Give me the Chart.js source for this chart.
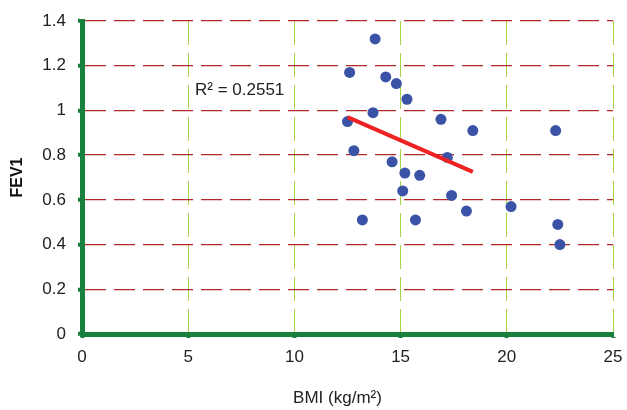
<!DOCTYPE html>
<html>
<head>
<meta charset="utf-8">
<script src="https://cdn.jsdelivr.net/npm/chart.js@4/dist/chart.umd.min.js"></script>
<style>
  html, body { margin: 0; padding: 0; background: #fff; }
  #wrap { width: 627px; height: 410px; }
</style>
</head>
<body>
<div id="wrap"><canvas id="c"></canvas></div>
<script>
// BMI vs FEV1 scatter with linear trend

// data
const bmi  = [13.8, 12.6, 14.3, 14.8, 15.3, 13.7, 12.5, 16.9, 18.4, 22.3, 12.8, 17.2,
              14.6, 15.2, 15.9, 15.1, 17.4, 18.1, 20.2, 13.2, 15.7, 22.4, 22.5];
const fev1 = [1.32, 1.17, 1.15, 1.12, 1.05, 0.99, 0.95, 0.96, 0.91, 0.91, 0.82, 0.79,
              0.77, 0.72, 0.71, 0.64, 0.62, 0.55, 0.57, 0.51, 0.51, 0.49, 0.40];

// trend line endpoints
const trendX = [12.5, 18.4];
const trendY = [0.97, 0.725];

const xTicks = [0, 5, 10, 15, 20, 25];
const yTicks = [0, 0.2, 0.4, 0.6, 0.8, 1, 1.2, 1.4];

const rLabel = 'R² = 0.2551';
const rPos = { x: 5.32, y: 1.09 };
const xTitle = 'BMI (kg/m²)';

const AXIS_GREEN = '#16803c';
const FONT = 'Arial, "Liberation Sans", sans-serif';

// R² annotation + x axis title
const labelsPlugin = {
    id: 'labels',
    afterDatasetsDraw(chart) {
        const ctx = chart.ctx;
        const x = chart.scales.x.getPixelForValue(rPos.x);
        const y = chart.scales.y.getPixelForValue(rPos.y);
        ctx.save();
        ctx.font = '17px ' + FONT;
        ctx.fillStyle = '#222';
        ctx.textBaseline = 'middle';
        ctx.textAlign = 'left';
        ctx.fillText(rLabel, x, y);

        const area = chart.chartArea;
        ctx.textAlign = 'center';
        ctx.fillText(xTitle, (area.left + area.right) / 2 - 10, 398);
        ctx.restore();
    }
};

new Chart(document.getElementById('c'), {
    type: 'scatter',
    data: {
        datasets: [
            {
                label: 'FEV1',
                data: bmi.map((v, i) => ({ x: v, y: fev1[i] })),
                backgroundColor: '#3a53a6',
                borderWidth: 0,
                pointRadius: 5.5,
                pointHoverRadius: 5.5
            },
            {
                label: 'trend',
                type: 'line',
                data: trendX.map((v, i) => ({ x: v, y: trendY[i] })),
                borderColor: '#ee2222',
                borderWidth: 4,
                pointRadius: 0,
                fill: false,
                order: -1
            }
        ]
    },
    options: {
        responsive: true,
        maintainAspectRatio: false,
        animation: false,
        layout: { padding: { left: 0, right: 14, top: 21, bottom: 0 } },
        plugins: {
            legend: { display: false },
            tooltip: { enabled: false }
        },
        scales: {
            x: {
                type: 'linear',
                min: 0,
                max: 25,
                afterBuildTicks: s => { s.ticks = xTicks.map(v => ({ value: v })); },
                afterFit: s => { s.height = 76; s.paddingRight = 0; s.paddingLeft = 0; },
                grid: {
                    color: '#a6d444',
                    lineWidth: 1,
                    tickColor: AXIS_GREEN,
                    tickLength: 4,
                    tickWidth: 4,
                    tickBorderDash: []
                },
                border: { color: AXIS_GREEN, width: 5, dash: [24, 8] },
                ticks: {
                    color: '#222',
                    font: { family: FONT, size: 17 },
                    padding: 9,
                    maxRotation: 0
                }
            },
            y: {
                type: 'linear',
                min: 0,
                max: 1.4,
                afterBuildTicks: s => { s.ticks = yTicks.map(v => ({ value: v })); },
                afterFit: s => { s.width = 82; s.paddingTop = 0; s.paddingBottom = 0; },
                grid: {
                    color: '#b02a2a',
                    lineWidth: 1.3,
                    tickColor: AXIS_GREEN,
                    tickLength: 4,
                    tickWidth: 4,
                    tickBorderDash: []
                },
                border: { color: AXIS_GREEN, width: 5, dash: [21, 8] },
                ticks: {
                    color: '#222',
                    font: { family: FONT, size: 17 },
                    padding: 12,
                    callback: v => String(+v.toFixed(1))
                },
                title: {
                    display: true,
                    text: 'FEV1',
                    color: '#111',
                    font: { family: FONT, size: 16, weight: 'bold' },
                    padding: { top: 8, bottom: 4 }
                }
            }
        }
    },
    plugins: [labelsPlugin]
});
</script>
</body>
</html>
